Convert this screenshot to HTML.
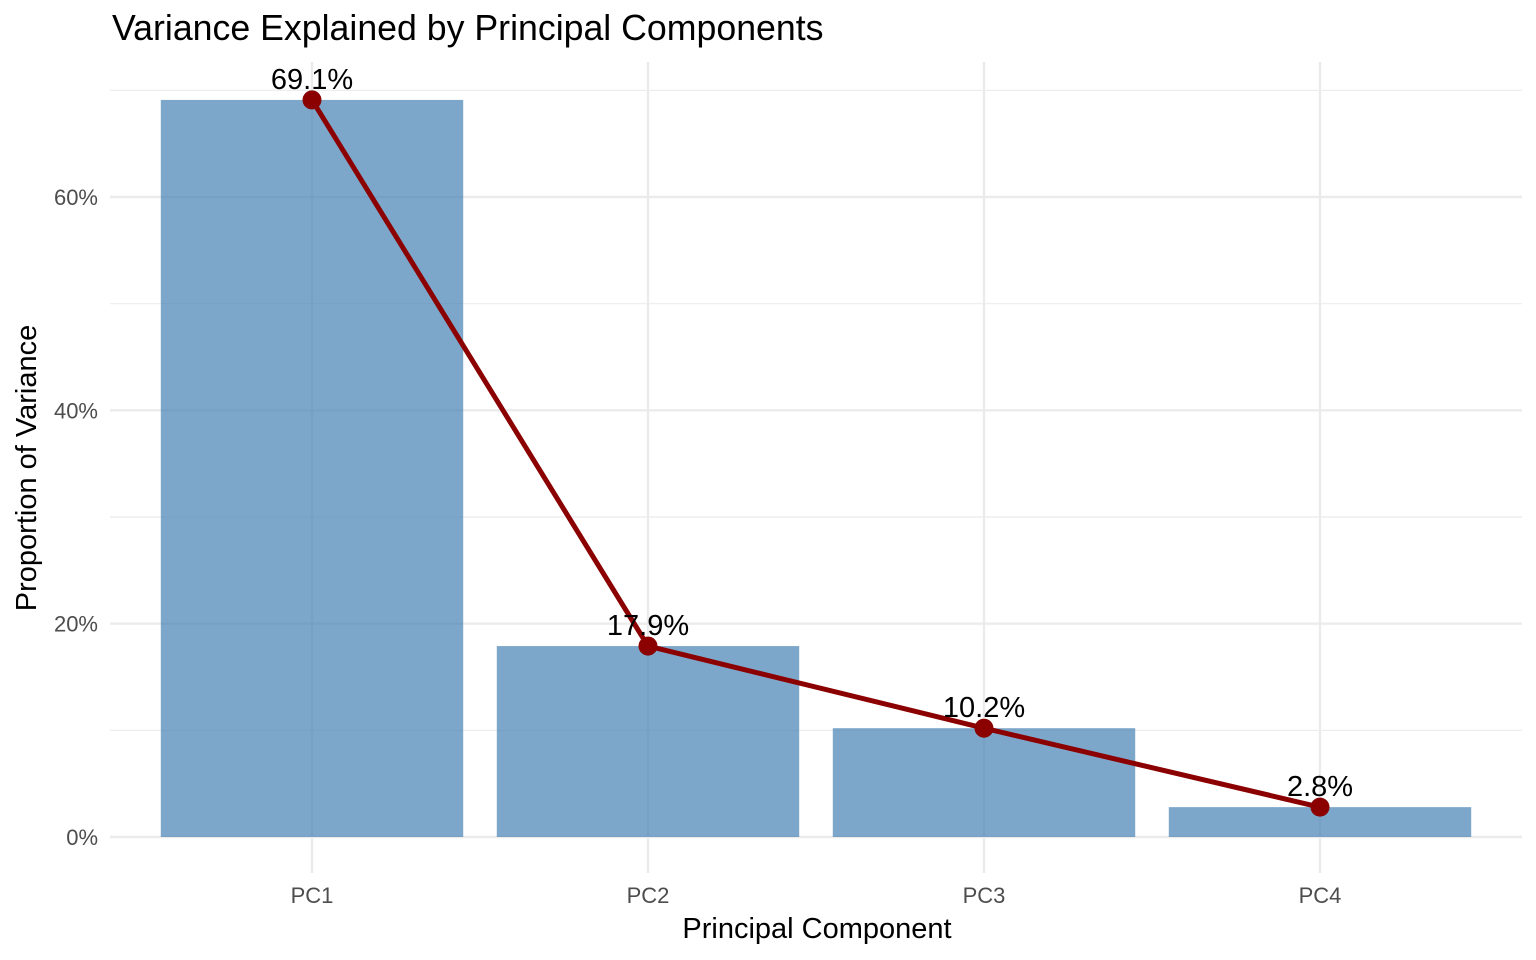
<!DOCTYPE html>
<html><head><meta charset="utf-8">
<style>
html,body{margin:0;padding:0;background:#fff;}
svg{display:block;font-family:"Liberation Sans",sans-serif;}
</style></head>
<body>
<svg id="chart" width="1536" height="960" xmlns="http://www.w3.org/2000/svg">
<text x="112" y="40" font-size="35.7" fill="#000">Variance Explained by Principal Components</text>
<text x="817" y="938" font-size="29" text-anchor="middle" fill="#000">Principal Component</text>
<text transform="translate(36,468) rotate(-90)" font-size="29" text-anchor="middle" fill="#000">Proportion of Variance</text>
<g id="grid"></g><g id="bars"></g><g id="line"></g><g id="labels"></g>
</svg>
<script>
const categories = ["PC1","PC2","PC3","PC4"];
const variance = [69.1, 17.9, 10.2, 2.8];
const yTicks = [0, 20, 40, 60];
const yMinor = [10, 30, 50, 70];

const NS = "http://www.w3.org/2000/svg";
const y = v => 837 - v * 10.6667;
const x = i => 312 + i * 336;
const bw = 302.4;
function mk(tag, attrs, parent){ const e=document.createElementNS(NS,tag); for(const k in attrs) e.setAttribute(k,attrs[k]); parent.appendChild(e); return e; }
const grid=document.getElementById('grid'), bars=document.getElementById('bars'), line=document.getElementById('line'), labels=document.getElementById('labels');

yMinor.forEach(v=>{
  const l=mk('line',{x1:110,x2:1522,y1:y(v),y2:y(v),stroke:'#ebebeb','stroke-width':1.2},grid);
  
  
});
yTicks.forEach(v=>{
  const l=mk('line',{x1:110,x2:1522,y1:y(v),y2:y(v),stroke:'#ebebeb','stroke-width':2.4},grid);
  
  
  const t=mk('text',{x:98,y:y(v)+8,'font-size':22,'text-anchor':'end',fill:'#4d4d4d'},grid);
  t.textContent=v+'%';
  
  
});
categories.forEach((c,i)=>{
  const l=mk('line',{x1:x(i),x2:x(i),y1:62,y2:873,stroke:'#ebebeb','stroke-width':2.4},grid);
  
  
  const t=mk('text',{x:x(i),y:903,'font-size':22,'text-anchor':'middle',fill:'#4d4d4d'},grid);
  t.textContent=c;
  
  
});
variance.forEach((v,i)=>{
  const r=mk('rect',{x:x(i)-bw/2,y:y(v),width:bw,height:y(0)-y(v),fill:'#4682B4','fill-opacity':0.7},bars);
  
  
});
const pts=variance.map((v,i)=>x(i)+','+y(v)).join(' ');
const pl=mk('polyline',{points:pts,fill:'none',stroke:'#8B0000','stroke-width':5,'stroke-linejoin':'round'},line);


variance.forEach((v,i)=>{
  const c=mk('circle',{cx:x(i),cy:y(v),r:9.5,fill:'#8B0000'},line);
  
  
  const t=mk('text',{x:x(i),y:y(v)-11,'font-size':29,'text-anchor':'middle',fill:'#000'},labels);
  t.textContent=v.toFixed(1)+'%';
  
  
});
</script>
</body></html>
